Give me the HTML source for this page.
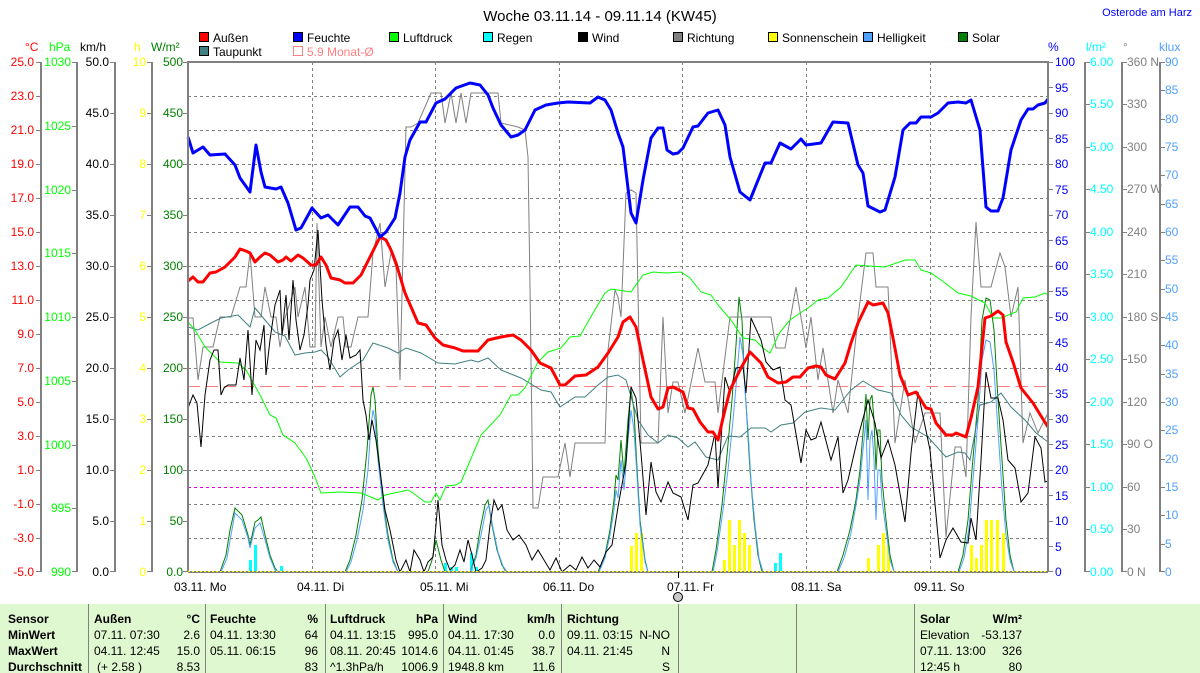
<!DOCTYPE html>
<html><head><meta charset="utf-8"><style>
html,body{margin:0;padding:0;background:#fff;}
svg{display:block;font-family:"Liberation Sans",sans-serif;}
</style></head><body>
<svg width="1200" height="673" viewBox="0 0 1200 673" xmlns="http://www.w3.org/2000/svg">
<rect width="1200" height="673" fill="#fff"/>
<text x="600" y="21" font-size="15" text-anchor="middle" fill="#000">Woche 03.11.14 - 09.11.14 (KW45)</text>
<text x="1192" y="16" font-size="11" text-anchor="end" fill="#0000ff">Osterode am Harz</text>

<!-- legend -->
<g font-size="12" fill="#000">
<rect x="199.5" y="32.5" width="9" height="9" fill="#ff0000" stroke="#000"/><text x="213" y="42">Außen</text>
<rect x="293.5" y="32.5" width="9" height="9" fill="#0000ff" stroke="#000"/><text x="307" y="42">Feuchte</text>
<rect x="389.5" y="32.5" width="9" height="9" fill="#00ff00" stroke="#000"/><text x="403" y="42">Luftdruck</text>
<rect x="483.5" y="32.5" width="9" height="9" fill="#00ffff" stroke="#000"/><text x="497" y="42">Regen</text>
<rect x="578.5" y="32.5" width="9" height="9" fill="#000" stroke="#000"/><text x="592" y="42">Wind</text>
<rect x="673.5" y="32.5" width="9" height="9" fill="#808080" stroke="#000"/><text x="687" y="42">Richtung</text>
<rect x="768.5" y="32.5" width="9" height="9" fill="#ffff00" stroke="#000"/><text x="782" y="42">Sonnenschein</text>
<rect x="863.5" y="32.5" width="9" height="9" fill="#50a0ff" stroke="#000"/><text x="877" y="42">Helligkeit</text>
<rect x="958.5" y="32.5" width="9" height="9" fill="#008000" stroke="#000"/><text x="972" y="42">Solar</text>
<rect x="199.5" y="46.5" width="9" height="9" fill="#408080" stroke="#000"/><text x="213" y="56">Taupunkt</text>
<rect x="293.5" y="46.5" width="9" height="9" fill="none" stroke="#ff8080"/><text x="307" y="56" fill="#ff8080">5.9 Monat-Ø</text>
</g>

<!-- axis headers -->
<g font-size="12">
<text x="25" y="51" fill="#ff0000">°C</text>
<text x="49" y="51" fill="#00ff00">hPa</text>
<text x="80" y="51" fill="#000">km/h</text>
<text x="134" y="51" fill="#ffff00">h</text>
<text x="151" y="51" fill="#008000">W/m²</text>
<text x="1048" y="51" fill="#0000ff">%</text>
<text x="1086" y="51" fill="#00ffff">l/m²</text>
<text x="1123" y="51" fill="#808080">°</text>
<text x="1159" y="51" fill="#50a0ff">klux</text>
</g>

<!-- grid -->
<g stroke="#808080" stroke-width="1" stroke-dasharray="3,3">
<line x1="188" x2="1048" y1="96.5" y2="96.5"/><line x1="188" x2="1048" y1="130.5" y2="130.5"/>
<line x1="188" x2="1048" y1="164.5" y2="164.5"/><line x1="188" x2="1048" y1="198.5" y2="198.5"/>
<line x1="188" x2="1048" y1="232.5" y2="232.5"/><line x1="188" x2="1048" y1="266.5" y2="266.5"/>
<line x1="188" x2="1048" y1="300.5" y2="300.5"/><line x1="188" x2="1048" y1="334.5" y2="334.5"/>
<line x1="188" x2="1048" y1="368.5" y2="368.5"/><line x1="188" x2="1048" y1="402.5" y2="402.5"/>
<line x1="188" x2="1048" y1="436.5" y2="436.5"/><line x1="188" x2="1048" y1="470.5" y2="470.5"/>
<line x1="188" x2="1048" y1="504.5" y2="504.5"/><line x1="188" x2="1048" y1="538.5" y2="538.5"/>
<line x1="312.5" x2="312.5" y1="62" y2="572"/><line x1="435.5" x2="435.5" y1="62" y2="572"/>
<line x1="559.5" x2="559.5" y1="62" y2="572"/><line x1="682.5" x2="682.5" y1="62" y2="572"/>
<line x1="806.5" x2="806.5" y1="62" y2="572"/><line x1="930.5" x2="930.5" y1="62" y2="572"/>
</g>
<line x1="188" x2="1048" y1="386.5" y2="386.5" stroke="#ff8080" stroke-dasharray="12,6"/>
<line x1="188" x2="1048" y1="487.5" y2="487.5" stroke="#e000e0" stroke-dasharray="3,3"/>

<!-- left axes -->
<g stroke="#808080" stroke-width="2">
<line x1="41" y1="62" x2="41" y2="572"/><line x1="77" y1="62" x2="77" y2="572"/>
<line x1="115" y1="62" x2="115" y2="572"/><line x1="152" y1="62" x2="152" y2="572"/>
<line x1="1085" y1="62" x2="1085" y2="572"/><line x1="1122" y1="62" x2="1122" y2="572"/>
<line x1="1160" y1="62" x2="1160" y2="572"/>
</g>
<g font-size="12" text-anchor="end">
<g fill="#ff0000">
<text x="34" y="66">25.0</text><text x="34" y="100">23.0</text><text x="34" y="134">21.0</text><text x="34" y="168">19.0</text>
<text x="34" y="202">17.0</text><text x="34" y="236">15.0</text><text x="34" y="270">13.0</text><text x="34" y="304">11.0</text>
<text x="34" y="338">9.0</text><text x="34" y="372">7.0</text><text x="34" y="406">5.0</text><text x="34" y="440">3.0</text>
<text x="34" y="474">1.0</text><text x="34" y="508">-1.0</text><text x="34" y="542">-3.0</text><text x="34" y="576">-5.0</text>
</g>
<g fill="#00ff00">
<text x="71" y="66">1030</text><text x="71" y="130">1025</text><text x="71" y="194">1020</text><text x="71" y="257">1015</text>
<text x="71" y="321">1010</text><text x="71" y="385">1005</text><text x="71" y="449">1000</text><text x="71" y="512">995</text><text x="71" y="576">990</text>
</g>
<g fill="#000">
<text x="109" y="66">50.0</text><text x="109" y="117">45.0</text><text x="109" y="168">40.0</text><text x="109" y="219">35.0</text>
<text x="109" y="270">30.0</text><text x="109" y="321">25.0</text><text x="109" y="372">20.0</text><text x="109" y="423">15.0</text>
<text x="109" y="474">10.0</text><text x="109" y="525">5.0</text><text x="109" y="576">0.0</text>
</g>
<g fill="#ffff00">
<text x="146" y="66">10</text><text x="146" y="117">9</text><text x="146" y="168">8</text><text x="146" y="219">7</text>
<text x="146" y="270">6</text><text x="146" y="321">5</text><text x="146" y="372">4</text><text x="146" y="423">3</text>
<text x="146" y="474">2</text><text x="146" y="525">1</text><text x="146" y="576">0</text>
</g>
<g fill="#008000">
<text x="183" y="66">500</text><text x="183" y="117">450</text><text x="183" y="168">400</text><text x="183" y="219">350</text>
<text x="183" y="270">300</text><text x="183" y="321">250</text><text x="183" y="372">200</text><text x="183" y="423">150</text>
<text x="183" y="474">100</text><text x="183" y="525">50</text><text x="183" y="576">0.0</text>
</g>
</g>
<g stroke="#808080" stroke-width="1">
<path d="M36 62.5h5M36 96.5h5M36 130.5h5M36 164.5h5M36 198.5h5M36 232.5h5M36 266.5h5M36 300.5h5M36 334.5h5M36 368.5h5M36 402.5h5M36 436.5h5M36 470.5h5M36 504.5h5M36 538.5h5M36 571.5h5"/>
<path d="M72 62.5h5M72 126.5h5M72 190.5h5M72 253.5h5M72 317.5h5M72 381.5h5M72 445.5h5M72 508.5h5M72 571.5h5"/>
<path d="M110 62.5h5M110 113.5h5M110 164.5h5M110 215.5h5M110 266.5h5M110 317.5h5M110 368.5h5M110 419.5h5M110 470.5h5M110 521.5h5M110 571.5h5"/>
<path d="M147 62.5h5M147 113.5h5M147 164.5h5M147 215.5h5M147 266.5h5M147 317.5h5M147 368.5h5M147 419.5h5M147 470.5h5M147 521.5h5M147 571.5h5"/>
<path d="M183 62.5h5M183 113.5h5M183 164.5h5M183 215.5h5M183 266.5h5M183 317.5h5M183 368.5h5M183 419.5h5M183 470.5h5M183 521.5h5M183 571.5h5"/>
</g>

<!-- right axes labels -->
<g font-size="12">
<g fill="#0000ff">
<text x="1055" y="66">100</text><text x="1055" y="92">95</text><text x="1055" y="117">90</text><text x="1055" y="143">85</text>
<text x="1055" y="168">80</text><text x="1055" y="194">75</text><text x="1055" y="219">70</text><text x="1055" y="245">65</text>
<text x="1055" y="270">60</text><text x="1055" y="296">55</text><text x="1055" y="321">50</text><text x="1055" y="347">45</text>
<text x="1055" y="372">40</text><text x="1055" y="398">35</text><text x="1055" y="423">30</text><text x="1055" y="449">25</text>
<text x="1055" y="474">20</text><text x="1055" y="500">15</text><text x="1055" y="525">10</text><text x="1055" y="551">5</text><text x="1055" y="576">0</text>
</g>
<g fill="#00ffff">
<text x="1090" y="66">6.00</text><text x="1090" y="108">5.50</text><text x="1090" y="151">5.00</text><text x="1090" y="193">4.50</text>
<text x="1090" y="236">4.00</text><text x="1090" y="278">3.50</text><text x="1090" y="321">3.00</text><text x="1090" y="363">2.50</text>
<text x="1090" y="406">2.00</text><text x="1090" y="448">1.50</text><text x="1090" y="491">1.00</text><text x="1090" y="533">0.50</text><text x="1090" y="576">0.00</text>
</g>
<g fill="#808080">
<text x="1127" y="66">360 N</text><text x="1127" y="108">330</text><text x="1127" y="151">300</text><text x="1127" y="193">270 W</text>
<text x="1127" y="236">240</text><text x="1127" y="278">210</text><text x="1127" y="321">180 S</text><text x="1127" y="363">150</text>
<text x="1127" y="406">120</text><text x="1127" y="448">90 O</text><text x="1127" y="491">60</text><text x="1127" y="533">30</text><text x="1127" y="576">0 N</text>
</g>
<g fill="#50a0ff">
<text x="1165" y="66">90</text><text x="1165" y="94">85</text><text x="1165" y="123">80</text><text x="1165" y="151">75</text>
<text x="1165" y="179">70</text><text x="1165" y="208">65</text><text x="1165" y="236">60</text><text x="1165" y="264">55</text>
<text x="1165" y="293">50</text><text x="1165" y="321">45</text><text x="1165" y="349">40</text><text x="1165" y="378">35</text>
<text x="1165" y="406">30</text><text x="1165" y="434">25</text><text x="1165" y="463">20</text><text x="1165" y="491">15</text>
<text x="1165" y="519">10</text><text x="1165" y="548">5</text><text x="1165" y="576">0</text>
</g>
</g>
<g stroke="#808080" stroke-width="1">
<path d="M1048 62.5h5M1048 87.5h5M1048 113.5h5M1048 138.5h5M1048 164.5h5M1048 189.5h5M1048 215.5h5M1048 240.5h5M1048 266.5h5M1048 291.5h5M1048 317.5h5M1048 342.5h5M1048 368.5h5M1048 393.5h5M1048 419.5h5M1048 444.5h5M1048 470.5h5M1048 495.5h5M1048 521.5h5M1048 546.5h5M1048 571.5h5"/>
<path d="M1085 62.5h5M1085 104.5h5M1085 147.5h5M1085 189.5h5M1085 232.5h5M1085 274.5h5M1085 317.5h5M1085 359.5h5M1085 402.5h5M1085 444.5h5M1085 487.5h5M1085 529.5h5M1085 571.5h5"/>
<path d="M1122 62.5h5M1122 104.5h5M1122 147.5h5M1122 189.5h5M1122 232.5h5M1122 274.5h5M1122 317.5h5M1122 359.5h5M1122 402.5h5M1122 444.5h5M1122 487.5h5M1122 529.5h5M1122 571.5h5"/>
<path d="M1160 62.5h5M1160 90.5h5M1160 119.5h5M1160 147.5h5M1160 175.5h5M1160 204.5h5M1160 232.5h5M1160 260.5h5M1160 289.5h5M1160 317.5h5M1160 345.5h5M1160 374.5h5M1160 402.5h5M1160 430.5h5M1160 459.5h5M1160 487.5h5M1160 515.5h5M1160 544.5h5M1160 571.5h5"/>
</g>

<!-- bars: rain -->
<g fill="#00ffff">
<rect x="249" y="560" width="3" height="12"/><rect x="254" y="545" width="3" height="27"/><rect x="280" y="566" width="3" height="6"/>
<rect x="444" y="563" width="3" height="9"/><rect x="450" y="567" width="3" height="5"/><rect x="455" y="567" width="3" height="5"/>
<rect x="470" y="553" width="3" height="19"/><rect x="475" y="567" width="3" height="5"/>
<rect x="723" y="567" width="3" height="5"/><rect x="774" y="563" width="3" height="9"/><rect x="779" y="553" width="3" height="19"/>
</g>
<!-- sunshine -->
<g fill="#ffff00">
<rect x="630" y="546" width="3" height="26"/><rect x="635" y="533" width="3" height="39"/><rect x="640" y="533" width="3" height="39"/>
<rect x="723" y="560" width="3" height="12"/><rect x="728" y="520" width="3" height="52"/><rect x="733" y="545" width="3" height="27"/>
<rect x="738" y="520" width="3" height="52"/><rect x="743" y="533" width="3" height="39"/><rect x="748" y="545" width="3" height="27"/>
<rect x="867" y="558" width="3" height="14"/><rect x="877" y="545" width="3" height="27"/><rect x="882" y="533" width="3" height="39"/><rect x="887" y="545" width="3" height="27"/>
<rect x="970" y="545" width="3" height="27"/><rect x="975" y="558" width="3" height="14"/><rect x="980" y="545" width="3" height="27"/>
<rect x="985" y="520" width="3" height="52"/><rect x="990" y="520" width="3" height="52"/><rect x="996" y="520" width="3" height="52"/><rect x="1002" y="533" width="3" height="39"/>
</g>

<!-- solar (dark green) -->
<polyline fill="none" stroke="#008000" stroke-width="1" points="188,572 220,572 226,555 230,530 235,508 242,515 248,535 250,545 255,522 258,520 261,517 265,535 270,555 275,568 278,572 345,572 350,560 356,535 362,500 367,450 371,395 373,387 375,400 378,450 383,500 388,535 393,560 398,572 428,572 432,560 436,540 441,560 445,572 470,572 476,555 480,530 485,505 488,500 492,525 497,550 502,565 506,572 598,572 605,555 610,530 614,500 616,475 618,480 621,440 624,475 628,420 631,390 634,410 636,450 640,520 645,560 648,572 712,572 716,550 722,505 727,455 732,400 736,345 739,297 742,320 744,370 747,420 750,470 754,520 758,555 762,572 837,572 843,555 850,530 856,500 860,470 864,420 866,394 868,440 870,400 872,395 874,420 876,470 878,430 880,430 882,480 886,520 890,555 894,572 958,572 963,555 968,520 972,470 978,400 982,320 986,298 990,300 994,330 998,400 1002,460 1006,520 1010,555 1014,572 1048,572"/>
<!-- helligkeit (light blue) -->
<polyline fill="none" stroke="#50a0ff" stroke-width="1" points="188,572 221,572 227,558 231,535 235,513 242,520 248,538 250,548 255,528 260,523 265,540 270,558 275,570 279,572 346,572 351,562 357,540 363,510 368,470 371,425 373,410 375,420 378,460 383,505 388,540 393,562 398,572 470,572 476,558 481,535 486,510 489,505 493,528 498,552 503,566 507,572 599,572 605,558 610,535 614,510 616,490 618,498 621,460 624,490 628,440 631,410 634,430 636,460 640,525 645,562 648,572 713,572 717,552 723,510 728,470 733,420 737,375 740,337 743,355 745,390 748,430 751,480 755,525 759,558 763,572 838,572 844,558 851,533 856,505 860,480 864,440 866,420 868,500 870,440 872,430 874,460 876,520 878,470 880,470 882,500 886,530 890,560 894,572 959,572 964,558 969,528 973,480 978,420 982,360 986,340 990,342 994,370 998,430 1002,490 1006,535 1010,560 1014,572 1048,572"/>

<!-- Richtung gray -->
<polyline fill="none" stroke="#808080" stroke-width="1" points="188,318 193,318 198,380 203,347 213,347 220,317 231,317 240,287 246,287 250,253 255,317 261,317 265,287 271,317 276,317 280,347 285,318 295,287 298,317 305,287 310,347 315,347 317,223 321,347 325,317 331,347 338,317 343,317 346,347 351,347 358,317 368,317 373,253 380,223 385,287 391,253 396,267 400,380 403,253 406,127 411,127 418,123 431,93 441,93 445,123 451,93 456,123 461,93 466,123 471,93 498,93 501,123 518,127 525,130 528,157 530,287 533,508 538,508 543,477 558,477 565,443 570,477 575,443 605,443 608,350 615,290 618,297 621,317 626,193 631,190 636,193 641,443 658,443 663,317 668,413 673,382 678,382 685,413 698,348 705,382 715,382 718,413 730,317 771,317 776,348 785,348 796,287 806,348 811,317 818,380 823,348 833,413 838,380 848,413 858,317 866,253 873,253 876,287 888,287 895,443 905,380 915,443 925,413 940,413 946,537 955,447 961,447 966,477 971,317 976,222 981,287 991,287 1000,253 1005,267 1011,317 1018,287 1023,443 1030,413 1038,433 1048,413"/>

<!-- Taupunkt -->
<polyline fill="none" stroke="#408080" stroke-width="1" points="188,327 198,330 211,323 221,318 238,315 250,327 255,308 265,320 275,332 285,336 295,355 305,353 315,352 321,350 328,357 340,377 348,370 363,360 373,343 388,348 398,353 406,348 421,353 438,363 455,364 471,360 478,362 488,358 501,370 521,378 541,390 551,392 560,407 575,397 585,397 598,385 608,377 618,375 626,380 638,420 648,435 658,443 668,435 678,438 688,447 695,442 706,457 718,460 728,436 740,437 751,428 765,428 771,432 781,425 793,423 805,412 821,408 835,410 851,390 863,381 878,390 891,393 901,415 911,427 928,437 946,457 958,452 965,453 970,460 980,405 991,402 1001,393 1011,407 1025,420 1036,433 1048,442"/>

<!-- Luftdruck -->
<polyline fill="none" stroke="#00ff00" stroke-width="1" points="188,322 195,330 205,347 220,362 238,363 246,370 260,395 270,415 276,418 283,435 295,443 306,458 315,477 321,493 341,492 361,493 378,500 385,495 408,490 413,493 425,502 431,502 436,493 440,500 446,486 456,485 461,482 481,435 500,415 511,395 518,395 525,388 538,362 548,352 561,348 570,337 580,336 593,313 605,293 611,289 618,290 631,292 643,275 653,272 666,273 681,272 690,278 701,292 711,295 718,305 731,320 743,338 755,340 763,348 770,353 780,332 790,320 800,313 808,308 818,300 828,298 841,287 856,265 868,266 885,267 905,260 915,260 921,270 931,273 945,283 958,293 971,296 985,303 993,318 1001,318 1016,312 1023,298 1035,297 1045,293 1048,295"/>

<!-- Wind -->
<polyline fill="none" stroke="#000" stroke-width="1" points="188,408 193,395 197,403 201,447 205,395 210,360 214,350 218,350 221,395 224,388 228,385 236,385 240,358 244,380 248,330 252,395 256,340 260,350 264,325 266,375 270,340 275,305 280,290 282,335 286,295 289,340 293,280 296,320 300,350 304,335 308,305 310,280 314,270 318,230 322,300 326,345 330,370 334,340 338,330 342,360 346,335 350,358 356,355 360,350 363,400 366,415 369,440 372,420 376,440 380,470 385,510 390,530 396,560 400,572 406,560 410,572 414,550 420,560 424,572 428,562 433,557 436,525 438,500 442,545 446,560 450,570 455,565 460,550 464,562 468,540 472,555 476,572 482,568 486,560 490,525 494,500 498,510 502,505 507,530 513,540 519,535 526,545 532,560 538,550 544,560 550,570 556,558 562,572 570,565 576,570 582,557 588,568 594,560 600,567 606,552 612,545 618,507 621,490 626,463 631,387 636,398 641,453 646,515 651,462 656,492 661,502 668,482 673,493 681,497 688,520 693,485 698,483 708,465 715,433 718,488 725,377 730,393 736,368 743,367 746,393 751,318 761,340 766,362 773,370 780,367 785,400 791,405 801,463 806,430 811,440 816,438 821,422 831,460 838,437 843,493 848,480 858,437 868,400 875,423 881,458 888,440 895,465 905,522 911,453 918,392 930,450 940,558 946,540 953,528 961,542 968,543 971,518 976,540 981,460 986,372 991,398 998,398 1003,420 1008,460 1015,468 1021,502 1028,493 1035,437 1041,448 1045,482 1048,481"/>

<!-- Außen -->
<polyline fill="none" stroke="#ff0000" stroke-width="3" stroke-linejoin="round" points="188,281 193,277 198,282 203,282 210,273 216,272 225,267 235,257 240,249 246,251 250,253 255,262 260,257 265,253 270,255 278,262 283,260 286,257 291,261 298,255 303,258 311,265 316,265 321,257 326,265 331,278 340,280 345,283 353,283 361,275 370,257 380,237 386,240 391,250 396,263 405,293 418,323 426,325 435,338 443,345 455,348 463,351 478,351 488,340 501,337 513,335 521,340 531,350 540,363 551,368 560,385 565,385 575,376 586,375 598,367 608,353 618,337 623,322 630,317 636,327 643,360 651,397 658,409 663,407 668,388 673,387 683,392 688,408 693,409 700,422 708,432 713,432 718,440 723,418 730,390 741,368 750,352 761,363 768,377 778,383 786,382 793,377 800,377 808,368 816,366 821,367 826,375 835,379 845,363 851,343 858,323 868,302 873,305 883,303 888,313 893,338 900,375 908,395 916,392 926,408 931,409 936,423 946,435 953,435 956,433 966,437 971,418 978,387 985,318 991,316 998,311 1003,315 1006,342 1013,362 1021,388 1033,403 1041,416 1048,427"/>

<!-- Feuchte -->
<polyline fill="none" stroke="#0000ff" stroke-width="3" stroke-linejoin="round" points="188,137 193,153 203,147 210,155 225,154 235,165 240,178 250,192 256,145 261,172 265,187 276,189 281,187 288,203 296,230 301,228 312,208 321,218 328,215 338,225 350,207 358,207 365,216 370,218 380,237 386,232 395,218 400,193 405,157 410,140 420,122 426,122 436,103 445,99 456,88 470,83 480,85 488,95 493,108 501,125 511,137 518,135 525,130 535,110 546,105 558,103 568,102 590,103 598,97 605,100 611,110 618,133 623,147 631,213 636,223 643,180 651,138 658,128 663,128 667,150 673,154 678,153 683,148 693,127 698,126 708,113 718,110 725,125 730,157 740,192 750,200 765,163 771,163 780,143 791,149 801,139 806,145 821,143 833,122 848,123 858,165 863,173 868,206 880,212 885,210 895,177 903,130 910,123 916,123 921,117 931,117 938,113 948,103 958,102 966,103 971,100 980,130 986,207 991,211 998,211 1003,198 1011,150 1021,120 1028,109 1033,109 1038,105 1045,103 1048,99"/>

<!-- frame -->
<path d="M188 572V62H1048V572" fill="none" stroke="#808080" stroke-width="2"/>
<line x1="188" y1="572" x2="1048" y2="572" stroke="#808080" stroke-width="2"/>
<line x1="188" y1="571.5" x2="1048" y2="571.5" stroke="#ffff00" stroke-width="1" stroke-dasharray="2,2"/>
<line x1="678.5" y1="572" x2="678.5" y2="578" stroke="#000"/>

<!-- x labels -->
<g font-size="12" fill="#000">
<text x="174" y="591">03.11. Mo</text><text x="297" y="591">04.11. Di</text><text x="420" y="591">05.11. Mi</text>
<text x="543" y="591">06.11. Do</text><text x="667" y="591">07.11. Fr</text><text x="791" y="591">08.11. Sa</text><text x="914" y="591">09.11. So</text>
</g>
<circle cx="678" cy="597" r="4.5" fill="#c8c8c8" stroke="#000"/>

<!-- table -->
<rect x="0" y="604" width="1200" height="69" fill="#e0f8d0"/>
<g stroke="#808080" stroke-width="1">
<line x1="88.5" y1="604" x2="88.5" y2="673"/><line x1="205.5" y1="604" x2="205.5" y2="673"/><line x1="325.5" y1="604" x2="325.5" y2="673"/>
<line x1="443.5" y1="604" x2="443.5" y2="673"/><line x1="561.5" y1="604" x2="561.5" y2="673"/><line x1="678.5" y1="604" x2="678.5" y2="673"/>
<line x1="796.5" y1="604" x2="796.5" y2="673"/><line x1="914.5" y1="604" x2="914.5" y2="673"/>
</g>
<g font-size="12" fill="#000">
<g font-weight="bold">
<text x="8" y="623">Sensor</text><text x="8" y="639">MinWert</text><text x="8" y="655">MaxWert</text><text x="8" y="671">Durchschnitt</text>
<text x="94" y="623">Außen</text><text x="200" y="623" text-anchor="end">°C</text>
<text x="210" y="623">Feuchte</text><text x="318" y="623" text-anchor="end">%</text>
<text x="330" y="623">Luftdruck</text><text x="438" y="623" text-anchor="end">hPa</text>
<text x="448" y="623">Wind</text><text x="555" y="623" text-anchor="end">km/h</text>
<text x="567" y="623">Richtung</text>
<text x="920" y="623">Solar</text><text x="1022" y="623" text-anchor="end">W/m²</text>
</g>
<text x="94" y="639">07.11.  07:30</text><text x="200" y="639" text-anchor="end">2.6</text>
<text x="94" y="655">04.11.  12:45</text><text x="200" y="655" text-anchor="end">15.0</text>
<text x="97" y="671">(+ 2.58 )</text><text x="200" y="671" text-anchor="end">8.53</text>
<text x="210" y="639">04.11.  13:30</text><text x="318" y="639" text-anchor="end">64</text>
<text x="210" y="655">05.11.  06:15</text><text x="318" y="655" text-anchor="end">96</text>
<text x="318" y="671" text-anchor="end">83</text>
<text x="330" y="639">04.11.  13:15</text><text x="438" y="639" text-anchor="end">995.0</text>
<text x="330" y="655">08.11.  20:45</text><text x="438" y="655" text-anchor="end">1014.6</text>
<text x="330" y="671">^1.3hPa/h</text><text x="438" y="671" text-anchor="end">1006.9</text>
<text x="448" y="639">04.11.  17:30</text><text x="555" y="639" text-anchor="end">0.0</text>
<text x="448" y="655">04.11.  01:45</text><text x="555" y="655" text-anchor="end">38.7</text>
<text x="448" y="671">1948.8 km</text><text x="555" y="671" text-anchor="end">11.6</text>
<text x="567" y="639">09.11.  03:15</text><text x="670" y="639" text-anchor="end">N-NO</text>
<text x="567" y="655">04.11.  21:45</text><text x="670" y="655" text-anchor="end">N</text>
<text x="670" y="671" text-anchor="end">S</text>
<text x="920" y="639">Elevation</text><text x="1022" y="639" text-anchor="end">-53.137</text>
<text x="920" y="655">07.11.  13:00</text><text x="1022" y="655" text-anchor="end">326</text>
<text x="920" y="671">12:45 h</text><text x="1022" y="671" text-anchor="end">80</text>
</g>
</svg>
</body></html>
